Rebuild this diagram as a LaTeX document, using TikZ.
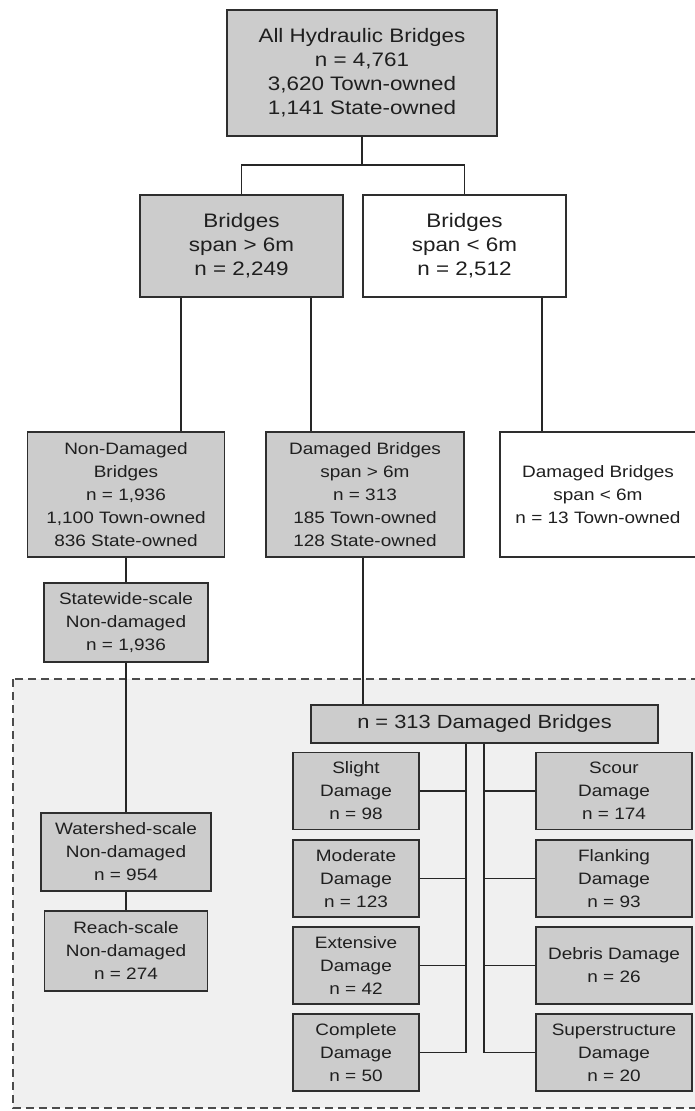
\documentclass[tikz,border=0pt]{standalone}
\usepackage{fontspec}
\setmainfont{Liberation Sans}[FakeStretch=1.15]

\begin{document}
\begin{tikzpicture}[x=1pt, y=-1pt]
    \tikzstyle{every node} = [font=\fontsize{16.5}{23}\selectfont, text=black!88]
    \tikzstyle{textbox} = [align=center, draw=black!82, line width=1.9pt, fill=black!20, inner sep=0pt]
    \tikzstyle{bigbox} = [textbox, font=\fontsize{19.5}{24}\selectfont]
    \tikzstyle{openbox} = [textbox, fill=white]
    \tikzstyle{leftcol} = [textbox, minimum width=126pt, minimum height=77pt]
    \tikzstyle{rightcol} = [textbox, minimum width=156pt, minimum height=77pt]
    \tikzstyle{link} = [line width=1.8pt, draw=black!85]
    \tikzstyle{region} = [dash pattern=on 8pt off 5pt, line width=2pt, draw=black!70, fill=black!6]

    \useasboundingbox (0,0) rectangle (694,1111);
    \fill[white] (0,0) rectangle (694,1111);

    % reach-scale analysis area
    \draw[region] (13,679) rectangle (720,1108);

    \node (all) [bigbox, minimum width=270pt, minimum height=126pt] at (362,73)
        {All Hydraulic Bridges\\n = 4,761\\3,620 Town-owned\\1,141 State-owned};
    \node (longspan) [bigbox, minimum width=203pt, minimum height=102pt] at (241.5,246)
        {Bridges\\span > 6m\\n = 2,249};
    \node (shortspan) [bigbox, fill=white, minimum width=203pt, minimum height=102pt] at (464.5,246)
        {Bridges\\span < 6m\\n = 2,512};

    \node (nondamaged) [textbox, minimum width=197pt, minimum height=125pt] at (126,494.5)
        {Non-Damaged\\Bridges\\n = 1,936\\1,100 Town-owned\\836 State-owned};
    \node (damaged) [textbox, minimum width=198pt, minimum height=125pt] at (365,494.5)
        {Damaged Bridges\\span > 6m\\n = 313\\185 Town-owned\\128 State-owned};
    \node (damagedshort) [openbox, minimum width=196pt, minimum height=125pt] at (598,494.5)
        {Damaged Bridges\\span < 6m\\n = 13 Town-owned};

    \node (statewide) [textbox, minimum width=164pt, minimum height=79pt] at (126,622.5)
        {Statewide-scale\\Non-damaged\\n = 1,936};
    \node (watershed) [textbox, minimum width=170pt, minimum height=78pt] at (126,852)
        {Watershed-scale\\Non-damaged\\n = 954};
    \node (reach) [textbox, minimum width=163pt, minimum height=80pt] at (126,951)
        {Reach-scale\\Non-damaged\\n = 274};

    \node (total) [bigbox, font=\fontsize{19}{24}\selectfont, minimum width=347pt, minimum height=38pt] at (484.5,724)
        {n = 313 Damaged Bridges};

    \node (slight) [leftcol] at (356,791) {Slight\\Damage\\n = 98};
    \node (moderate) [leftcol] at (356,878.5) {Moderate\\Damage\\n = 123};
    \node (extensive) [leftcol] at (356,965.5) {Extensive\\Damage\\n = 42};
    \node (complete) [leftcol] at (356,1052.5) {Complete\\Damage\\n = 50};

    \node (scour) [rightcol] at (614,791) {Scour\\Damage\\n = 174};
    \node (flanking) [rightcol] at (614,878.5) {Flanking\\Damage\\n = 93};
    \node (debris) [rightcol] at (614,965.5) {Debris Damage\\n = 26};
    \node (superstructure) [rightcol] at (614,1052.5) {Superstructure\\Damage\\n = 20};

    \coordinate (split) at (362,165);
    \coordinate (busleft) at (466,1052.5);
    \coordinate (busright) at (484,1052.5);

    \draw [link] (all.south) -- (split);
    \draw [link] (longspan.north) |- (split) -| (shortspan.north);
    \draw [link] ([xshift=-60.5pt]longspan.south) -- ([xshift=-60.5pt]longspan.south |- nondamaged.north);
    \draw [link] ([xshift=69.5pt]longspan.south) -- ([xshift=69.5pt]longspan.south |- damaged.north);
    \draw [link] ([xshift=77.5pt]shortspan.south) -- ([xshift=77.5pt]shortspan.south |- damagedshort.north);
    \draw [link] (nondamaged.south) -- (statewide.north);
    \draw [link] (statewide.south) -- (watershed.north);
    \draw [link] (watershed.south) -- (reach.north);
    \draw [link] ([xshift=-2pt]damaged.south) -- ([xshift=-2pt]damaged.south |- total.north);
    \draw [link] (total.south -| busleft) -- (busleft);
    \draw [link] (total.south -| busright) -- (busright);
    \foreach \kind in {slight, moderate, extensive, complete}
        \draw [link] (\kind.east) -- (\kind.east -| busleft);
    \foreach \kind in {scour, flanking, debris, superstructure}
        \draw [link] (\kind.west) -- (\kind.west -| busright);
\end{tikzpicture}
\end{document}
